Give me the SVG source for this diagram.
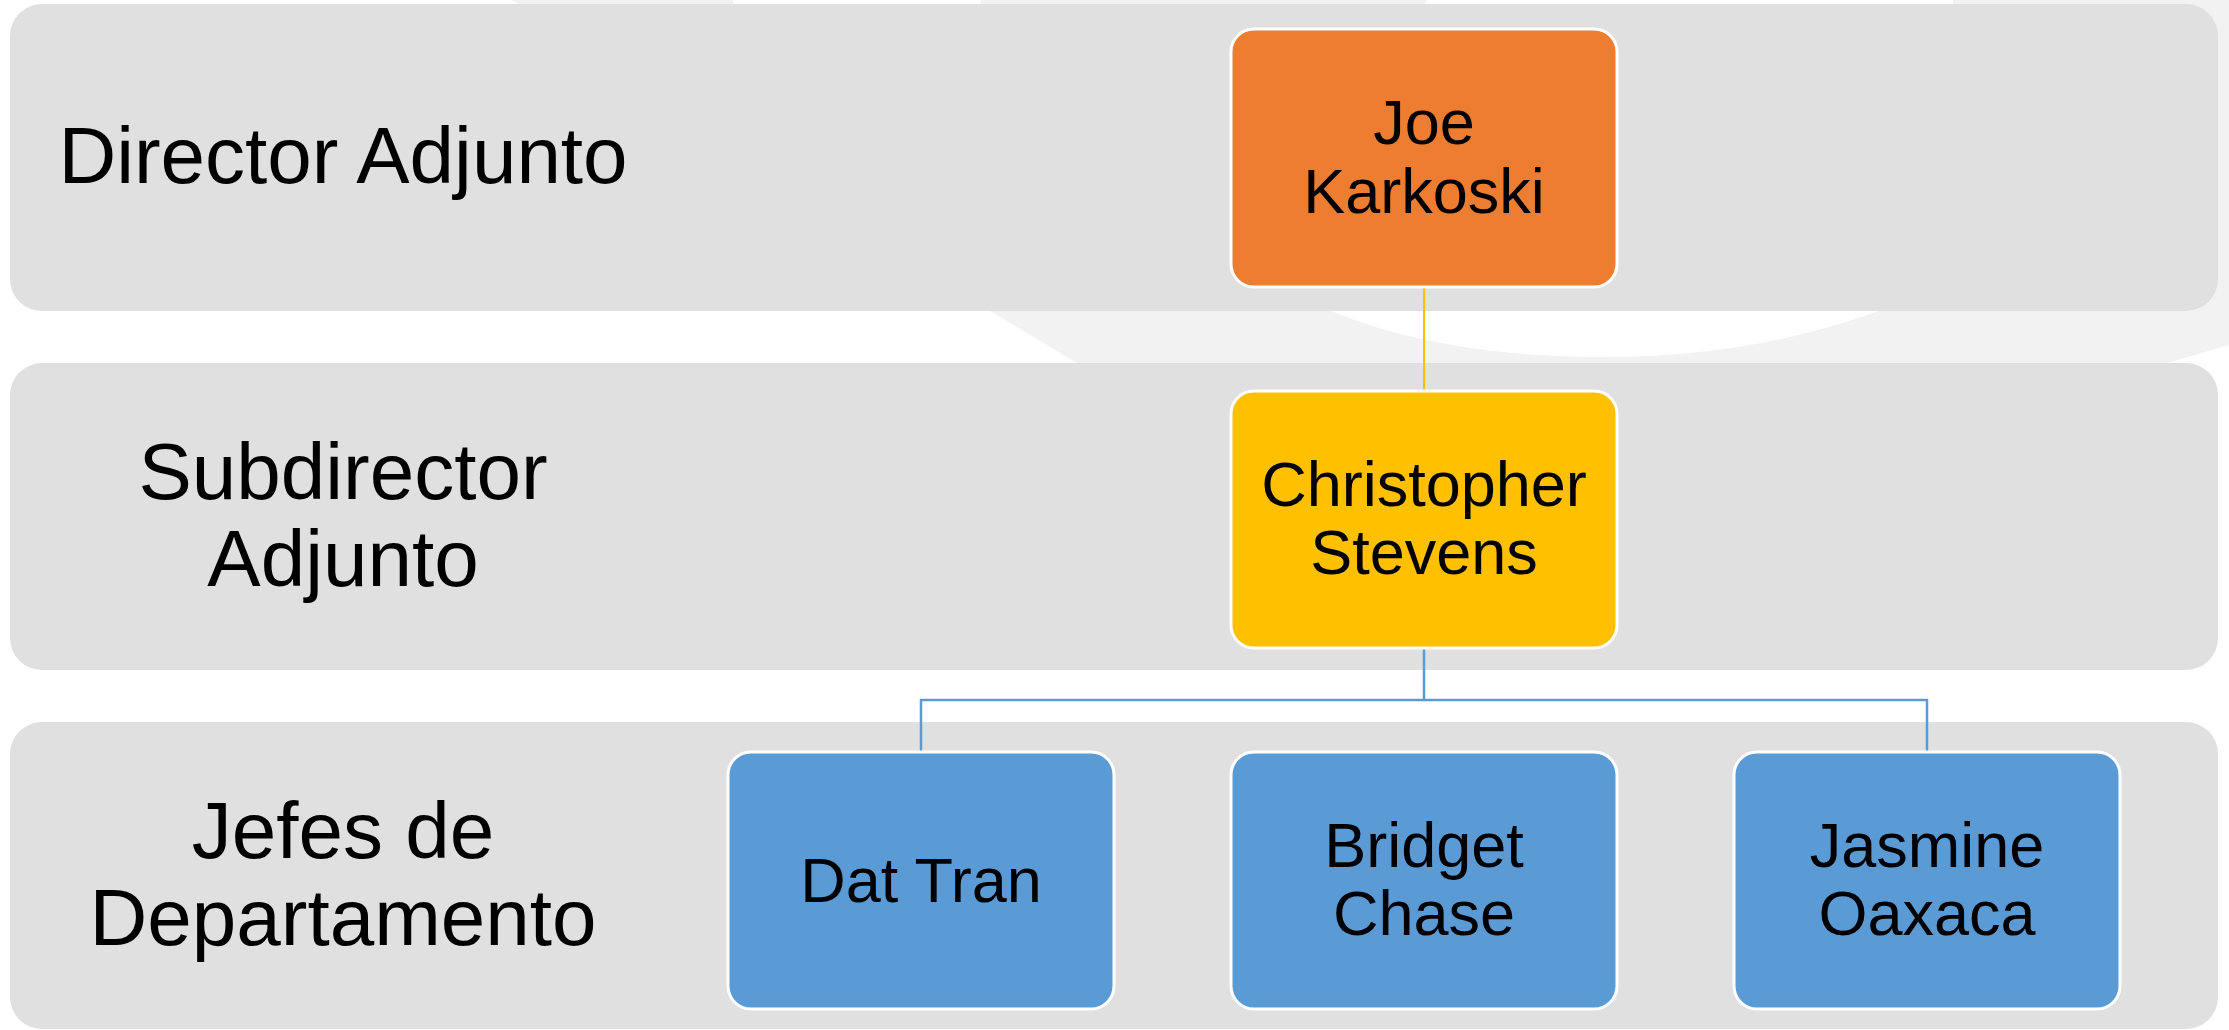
<svg xmlns="http://www.w3.org/2000/svg" width="2229" height="1030" viewBox="0 0 2229 1030">
<style>
.band{fill:#e0e0e0}
.lbl{font-family:"Liberation Sans",Arial,sans-serif;font-size:80px;fill:#000;text-anchor:middle}
.box{stroke:#ffffff;stroke-width:3}
.nt{font-family:"Liberation Sans",Arial,sans-serif;font-size:63px;fill:#000;text-anchor:middle}
.orange{fill:#ED7D31}
.yellow{fill:#FFC000}
.blue{fill:#5B9BD5}
</style>
<rect x="0" y="0" width="2229" height="1030" fill="#ffffff"/>
<g id="decor">
<path d="M512,0 L992,312 L1130,395 L2229,395 L2229,345 L2229,0 Z" fill="#f2f2f3"/>
<path d="M2229,345 L2150,368 L2150,400 L2229,400 Z" fill="#ffffff"/>
<ellipse cx="857" cy="0" rx="124" ry="30" fill="#ffffff"/>
<path d="M1427,0 L1953,0 L1940,285 Q1790,357 1605,357 Q1400,357 1280,285 Z" fill="#ffffff"/>
</g>
<g id="bands">
<rect class="band" x="10" y="4" width="2208" height="307" rx="32" ry="32"/>
<rect class="band" x="10" y="363" width="2208" height="307" rx="32" ry="32"/>
<rect class="band" x="10" y="722" width="2208" height="307" rx="32" ry="32"/>
<text class="lbl" x="343" y="183">Director Adjunto</text>
<text class="lbl" x="343" y="499">Subdirector</text>
<text class="lbl" x="343" y="586">Adjunto</text>
<text class="lbl" x="343" y="858">Jefes de</text>
<text class="lbl" x="343" y="945">Departamento</text>
</g>
<g id="connectors">
<line x1="1424" y1="287" x2="1424" y2="391" stroke="#FFC000" stroke-width="2"/>
<path d="M1424,648 L1424,700 M921,752 L921,700 L1927,700 L1927,752" fill="none" stroke="#5B9BD5" stroke-width="2.5"/>
</g>
<g id="joe">
<rect class="box orange" x="1231" y="29" width="386" height="258" rx="23" ry="23"/>
<text class="nt" x="1424" y="144">Joe</text>
<text class="nt" x="1424" y="213">Karkoski</text>
</g>
<g id="christopher">
<rect class="box yellow" x="1231" y="391" width="386" height="257" rx="23" ry="23"/>
<text class="nt" x="1424" y="506">Christopher</text>
<text class="nt" x="1424" y="574">Stevens</text>
</g>
<g id="dat">
<rect class="box blue" x="728" y="752" width="386" height="257" rx="23" ry="23"/>
<text class="nt" x="921" y="902">Dat Tran</text>
</g>
<g id="bridget">
<rect class="box blue" x="1231" y="752" width="386" height="257" rx="23" ry="23"/>
<text class="nt" x="1424" y="867">Bridget</text>
<text class="nt" x="1424" y="935">Chase</text>
</g>
<g id="jasmine">
<rect class="box blue" x="1734" y="752" width="386" height="257" rx="23" ry="23"/>
<text class="nt" x="1927" y="867">Jasmine</text>
<text class="nt" x="1927" y="935">Oaxaca</text>
</g>
</svg>
